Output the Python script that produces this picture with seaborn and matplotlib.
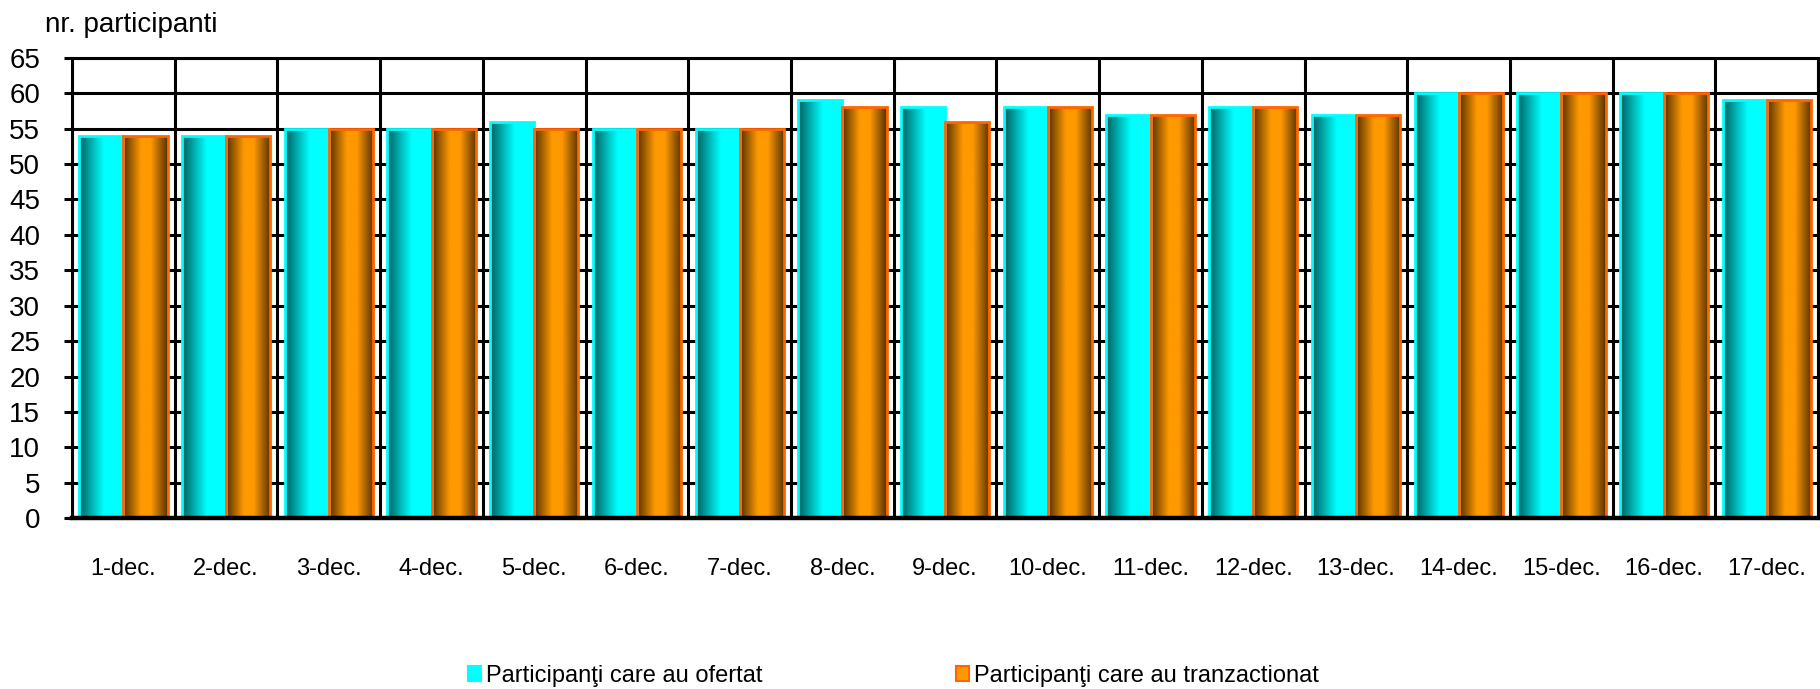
import numpy as np
import pandas as pd
import matplotlib
matplotlib.use("Agg")
import matplotlib.pyplot as plt
import seaborn as sns
from matplotlib.colors import LinearSegmentedColormap
from matplotlib.patches import Patch

# Data
days = ["1-dec.", "2-dec.", "3-dec.", "4-dec.", "5-dec.", "6-dec.", "7-dec.", "8-dec.", "9-dec.",
        "10-dec.", "11-dec.", "12-dec.", "13-dec.", "14-dec.", "15-dec.", "16-dec.", "17-dec."]
ofertat = [54, 54, 55, 55, 56, 55, 55, 59, 58, 58, 57, 58, 57, 60, 60, 60, 59]
tranzactionat = [54, 54, 55, 55, 55, 55, 55, 58, 56, 58, 57, 58, 57, 60, 60, 60, 59]
series = ["Participanţi care au ofertat", "Participanţi care au tranzactionat"]
y_ticks = list(range(0, 70, 5))

df = pd.DataFrame({
    "zi": days * 2,
    "val": ofertat + tranzactionat,
    "serie": [series[0]] * len(days) + [series[1]] * len(days),
})

sns.set_style("white")
plt.rcParams['font.family'] = ['Liberation Sans', 'DejaVu Sans']
plt.rcParams['text.color'] = 'black'
plt.rcParams['xtick.color'] = 'black'
plt.rcParams['ytick.color'] = 'black'

fig = plt.figure(figsize=(18.2, 6.89), dpi=100)
ax = fig.add_axes([0.0396, 0.248, 0.9594, 0.668])

fills = ["#00FFFF", "#FF9900"]
edges = ["#00FFFF", "#FF6600"]
sns.barplot(data=df, x="zi", y="val", hue="serie", palette=fills, width=0.86,
            saturation=1, ax=ax, legend=False)

# cylinder-like shading on each bar
cmaps = [
    LinearSegmentedColormap.from_list("cy", [(0, "#005f5f"), (0.55, "#00ffff"), (1, "#00ffff")]),
    LinearSegmentedColormap.from_list("or", [(0, "#553000"), (0.4, "#ff9900"), (0.62, "#ff9900"), (1, "#553000")]),
]
grad = np.linspace(0, 1, 256).reshape(1, -1)
for cont, cmap, edge in zip(ax.containers, cmaps, edges):
    for bar in cont:
        x0, w, h = bar.get_x(), bar.get_width(), bar.get_height()
        im = ax.imshow(grad, cmap=cmap, extent=(x0, x0 + w, 0, h), aspect="auto",
                       interpolation="bilinear", zorder=2)
        im.set_clip_path(bar)
        bar.set_facecolor("none")
        bar.set_edgecolor(edge)
        bar.set_linewidth(2)
        bar.set_zorder(3)

ax.set_xlim(-0.5, len(days) - 0.5)
ax.set_ylim(0, 65)
ax.set_yticks(y_ticks)
ax.set_xticks(np.arange(-0.5, len(days), 1), minor=True)
ax.set_xlabel("")
ax.set_ylabel("")

ax.set_axisbelow(True)
ax.grid(True, axis="y", color="black", lw=2.2)
ax.grid(True, axis="x", which="minor", color="black", lw=2.2)
ax.grid(False, axis="x", which="major")

ax.tick_params(axis="x", which="major", length=0, pad=29, labelsize=17)
ax.tick_params(axis="x", which="minor", length=6, width=2.2, direction="out", color="black")
ax.tick_params(axis="y", length=6, width=2.2, direction="out", color="black",
               labelsize=20, pad=17, left=True)

for side, sp in ax.spines.items():
    sp.set_color("black")
    sp.set_linewidth(2.2)
ax.spines["bottom"].set_linewidth(3.2)
ax.spines["bottom"].set_zorder(4)

fig.text(0.0247, 0.953, "nr. participanti", fontsize=20, ha="left", va="baseline")

handles = [Patch(facecolor=f, edgecolor=e, linewidth=1.5) for f, e in zip(fills, edges)]
fig.legend(handles, series, loc="center", bbox_to_anchor=(0.491, 0.019), ncol=2,
           frameon=False, fontsize=17, handlelength=0.55, handleheight=0.6,
           handletextpad=0.2, columnspacing=8.2, borderpad=0, borderaxespad=0)

fig.savefig("out.png", dpi=100)
